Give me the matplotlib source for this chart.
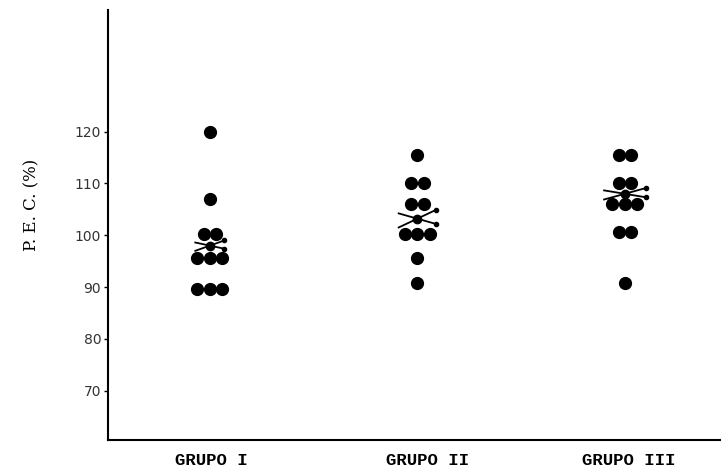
import matplotlib
matplotlib.use("Agg")
import matplotlib.pyplot as plt

# group labels and their positions on the x axis
groups = ["GRUPO I", "GRUPO II", "GRUPO III"]

# values, one list per row of dots (value, count)
grupo1 = [(120, 1), (107, 1), (100.3, 2), (95.7, 3), (89.6, 3)]
grupo2 = [(115.4, 1), (110, 2), (106, 2), (100.3, 3), (95.7, 1), (90.7, 1)]
grupo3 = [(115.4, 2), (110, 2), (106, 3), (100.6, 2), (90.7, 1)]
means = [98.0, 103.2, 108.0]

yticks = [70, 80, 90, 100, 110, 120]

fig = plt.figure(figsize=(7.21, 4.70), dpi=100)
ax = fig.add_axes([0.150, 0.064, 0.849, 0.915])

spacing = 0.06  # horizontal gap between dots of the same row
for gx, rows in zip([1, 2, 3], [grupo1, grupo2, grupo3]):
    for val, n in rows:
        for k in range(n):
            x = gx + (k - (n - 1) / 2) * spacing
            ax.plot(x, val, "o", color="black", ms=8.5, zorder=3)

# mean markers: an X of two thin lines with small balls at the ends
cross_w = [0.07, 0.09, 0.10]
cross_h = [1.0, 1.7, 1.1]
for gx, m, w, h in zip([1, 2, 3], means, cross_w, cross_h):
    ax.plot([gx - w, gx + w], [m - h, m + h], color="black", lw=1.3, zorder=4)
    ax.plot([gx - w, gx + w], [m + h * 0.6, m - h * 0.6], color="black", lw=1.3, zorder=4)
    ax.plot(gx, m, "o", color="black", ms=6, zorder=5)
    ax.plot([gx + w], [m + h], "o", color="black", ms=3, zorder=5)
    ax.plot([gx + w], [m - h * 0.6], "o", color="black", ms=3, zorder=5)

ax.set_xlim(0.51, 3.46)
ax.set_ylim(60.5, 143.5)

ax.spines["top"].set_visible(False)
ax.spines["right"].set_visible(False)
ax.spines["left"].set_linewidth(1.5)
ax.spines["bottom"].set_linewidth(1.5)

ax.set_yticks(yticks)
ax.set_yticklabels([str(t) for t in yticks], fontsize=10, color="#333333")
ax.tick_params(axis="y", length=3, width=1, pad=2)

ax.set_xticks([])
label_x = [1.005, 2.05, 3.02]
for lx, g in zip(label_x, groups):
    ax.text(lx, -0.031, g, transform=ax.get_xaxis_transform(), ha="center", va="top",
            fontsize=12.5, fontweight="bold", family="Liberation Mono")

ax.set_ylabel("P. E. C. (%)", fontsize=12, family="DejaVu Serif")
ax.yaxis.set_label_coords(-0.111, 0.547)

fig.savefig("out.png", dpi=100)
